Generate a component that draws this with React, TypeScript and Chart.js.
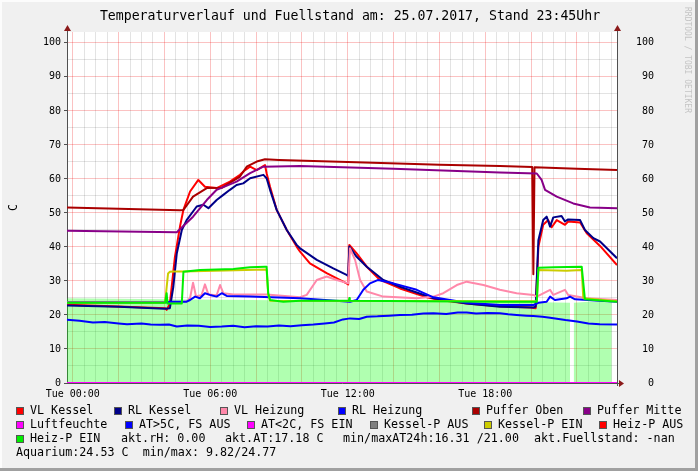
import React, { useEffect, useRef } from "react";
import { Chart, registerables } from "chart.js";

Chart.register(...registerables);

const W = 698;
const H = 471;

// ---- axes ----
const X_MIN = -0.25; // Mon 23:45
const X_MAX = 23.75; // Tue 23:45
const Y_MIN = 0;
const Y_MAX = 103.2;
const xLabelHours = [0, 6, 12, 18];
const xTickLabels = ["Tue 00:00", "Tue 06:00", "Tue 12:00", "Tue 18:00"];
const yLabelValues = [0, 10, 20, 30, 40, 50, 60, 70, 80, 90, 100];

const TITLE = "Temperaturverlauf und Fuellstand am: 25.07.2017, Stand 23:45Uhr";
const Y_TITLE = "C";
const WATERMARK = "RRDTOOL / TOBI OETIKER";

// ---- series (hours, °C) ----
const aquariumT = [-0.25, 4.0, 9.0, 14.0, 18.0, 21.7, 21.72, 21.84, 21.86, 23.52];
const aquariumV = [24.9, 24.6, 24.3, 24.2, 24.0, 23.6, null, null, 23.6, 24.3];

const vlKesselT = [-0.25, 2.0, 4.03, 4.1, 4.24, 4.46, 4.68, 4.83, 5.12, 5.48, 5.77, 6.28, 6.86, 7.3, 7.52, 7.74, 8.03, 8.39, 8.46, 8.61, 8.9, 9.34, 9.77, 9.92, 10.35, 11.08, 11.95, 12.02, 12.07, 12.39, 12.83, 13.41, 14.28, 15.45, 16.03, 17.19, 18.64, 20.0, 20.2, 20.32, 20.53, 20.75, 20.9, 21.12, 21.48, 21.62, 22.14, 22.43, 23.01, 23.75];
const vlKesselV = [23.0, 22.5, 22.0, 21.5, 23.4, 37.1, 46.0, 50.9, 56.3, 59.7, 57.7, 57.3, 59.2, 61.2, 62.6, 63.6, 62.6, 64.1, 61.7, 57.7, 50.9, 45.0, 40.1, 38.6, 35.2, 32.3, 29.3, 29.0, 40.6, 38.1, 34.2, 30.3, 27.8, 25.2, 24.4, 23.4, 22.6, 22.2, 22.0, 40.1, 46.5, 47.9, 45.8, 47.9, 46.5, 47.5, 47.2, 44.0, 40.3, 34.7];

const rlKesselT = [-0.25, 2.0, 4.03, 4.24, 4.39, 4.54, 4.76, 4.97, 5.41, 5.7, 5.92, 6.28, 6.57, 6.86, 7.15, 7.44, 7.74, 8.32, 8.46, 8.61, 8.9, 9.34, 9.77, 9.92, 10.65, 11.37, 11.95, 12.02, 12.07, 12.39, 12.83, 13.55, 14.28, 15.74, 17.19, 18.64, 20.1, 20.2, 20.32, 20.53, 20.68, 20.83, 20.97, 21.33, 21.48, 21.62, 22.14, 22.35, 22.72, 23.01, 23.75];
const rlKesselV = [22.8, 22.4, 21.8, 22.0, 28.3, 38.1, 45.0, 47.9, 51.9, 52.4, 51.4, 53.8, 55.3, 56.8, 58.2, 58.7, 60.2, 61.2, 60.2, 56.8, 50.9, 45.0, 40.6, 39.6, 36.2, 33.7, 31.8, 31.5, 40.1, 37.1, 34.2, 30.3, 28.3, 24.9, 23.4, 22.4, 22.2, 22.4, 42.0, 47.9, 48.9, 46.0, 48.7, 49.1, 47.5, 48.1, 47.9, 45.0, 42.6, 41.6, 36.7];

const vlHeizungT = [-0.25, 4.6, 4.97, 5.12, 5.25, 5.38, 5.62, 5.77, 5.92, 6.28, 6.43, 6.57, 7.01, 8.46, 9.92, 10.21, 10.65, 11.08, 11.52, 12.02, 12.1, 12.32, 12.54, 12.83, 13.55, 15.01, 15.74, 16.17, 16.76, 17.19, 17.92, 18.64, 19.37, 20.1, 20.25, 20.83, 20.97, 21.48, 21.62, 22.43, 23.75];
const vlHeizungV = [23.8, 23.8, 24.0, 25.0, 29.5, 25.5, 25.8, 29.0, 26.0, 25.8, 28.8, 26.4, 26.0, 26.0, 25.2, 25.9, 30.3, 31.3, 30.3, 29.3, 39.6, 36.2, 30.3, 26.9, 25.4, 24.9, 25.4, 26.4, 28.8, 29.8, 28.8, 27.4, 26.4, 25.9, 25.4, 27.4, 25.9, 27.4, 25.9, 24.9, 24.4];

const rlHeizungT = [-0.25, 4.03, 4.24, 4.97, 5.12, 5.34, 5.55, 5.77, 5.99, 6.28, 6.5, 6.72, 7.74, 9.92, 12.1, 12.39, 12.68, 12.97, 13.33, 13.99, 15.01, 15.74, 17.19, 18.64, 20.1, 20.32, 20.68, 20.83, 21.04, 21.55, 21.7, 21.92, 23.75];
const rlHeizungV = [23.7, 23.7, 23.9, 23.9, 24.4, 25.4, 24.9, 26.4, 25.9, 25.4, 26.4, 25.6, 25.4, 24.9, 23.9, 24.4, 27.4, 29.3, 30.3, 29.3, 27.4, 25.2, 23.6, 22.9, 22.9, 23.6, 23.9, 25.4, 24.4, 24.9, 25.4, 24.6, 23.9];

const pufferObenT = [-0.25, 4.68, 4.83, 5.25, 5.85, 6.5, 7.3, 7.59, 8.03, 8.39, 9.0, 12.0, 16.0, 18.64, 20.05, 20.1, 20.15, 22.0, 23.75];
const pufferObenV = [51.6, 50.8, 50.9, 54.8, 57.3, 57.4, 60.7, 63.6, 65.1, 65.8, 65.6, 65.0, 64.2, 63.8, 63.5, 32.0, 63.4, 63.0, 62.6];

const pufferMitteT = [-0.25, 4.54, 5.25, 5.85, 6.28, 7.15, 7.74, 8.32, 9.92, 14.0, 18.64, 20.25, 20.46, 20.61, 21.12, 21.84, 22.57, 23.75];
const pufferMitteV = [44.8, 44.3, 48.9, 53.8, 56.8, 59.2, 61.7, 63.6, 63.8, 63.0, 61.9, 61.6, 59.7, 56.8, 54.8, 52.8, 51.6, 51.4];

const luftfeuchteT = [-0.25, 23.75];
const luftfeuchteV = [0, 0];

const aussenT = [-0.25, 0.3, 0.88, 1.4, 2.0, 2.37, 3.0, 3.4, 3.81, 4.2, 4.54, 5.0, 5.5, 6.0, 6.5, 7.0, 7.5, 8.0, 8.5, 9.0, 9.5, 10.0, 10.5, 11.0, 11.4, 11.79, 12.1, 12.5, 12.83, 13.3, 13.8, 14.28, 14.8, 15.3, 15.74, 16.3, 16.8, 17.19, 17.6, 18.1, 18.64, 19.0, 19.37, 19.8, 20.1, 20.5, 20.83, 21.2, 21.5, 22.0, 22.5, 23.0, 23.75];
const aussenV = [18.6, 18.3, 17.8, 17.9, 17.5, 17.3, 17.5, 17.2, 17.1, 17.2, 16.6, 16.9, 16.8, 16.5, 16.6, 16.8, 16.4, 16.7, 16.6, 16.9, 16.7, 17.0, 17.2, 17.5, 17.8, 18.7, 19.0, 18.8, 19.5, 19.6, 19.8, 20.0, 20.1, 20.4, 20.5, 20.3, 20.7, 20.7, 20.4, 20.6, 20.5, 20.2, 20.0, 19.8, 19.7, 19.5, 19.2, 18.8, 18.5, 18.1, 17.5, 17.3, 17.2];

const kesselPEinT = [-0.25, 4.03, 4.16, 4.24, 4.39, 4.83, 8.46, 8.53, 8.61, 20.25, 20.32, 21.55, 22.21, 22.28, 23.75];
const kesselPEinV = [23.6, 23.6, 32.2, 32.7, 32.8, 32.8, 33.4, 26.0, 24.2, 24.0, 33.2, 33.0, 33.2, 24.9, 24.0];

const heizPEinT = [-0.25, 4.03, 4.1, 4.13, 4.16, 4.76, 4.83, 5.55, 7.01, 7.74, 8.39, 8.46, 8.53, 8.61, 9.19, 9.92, 12.05, 12.07, 12.09, 18.64, 20.25, 20.32, 21.0, 22.21, 22.35, 23.75];
const heizPEinV = [23.6, 23.6, 26.4, 23.4, 23.4, 23.4, 32.7, 33.2, 33.5, 34.0, 34.2, 34.2, 26.4, 24.4, 23.9, 24.2, 24.2, 25.0, 24.2, 23.9, 23.9, 33.9, 34.0, 34.2, 24.6, 23.9];

// ---- legend ----
const COL = {
  vlKessel: "#ff0000",
  rlKessel: "#000088",
  vlHeizung: "#ff88aa",
  rlHeizung: "#0000ff",
  pufferOben: "#aa0000",
  pufferMitte: "#880088",
  luftfeuchte: "#ff00ff",
  atWarm: "#0000ff",
  atKalt: "#ff00ff",
  kesselPAus: "#808080",
  kesselPEin: "#cccc00",
  heizPAus: "#ff0000",
  heizPEin: "#00ee00",
  aquarium: "rgba(0,255,0,0.31)",
};

const legendRow1 = [
  { x: 16, color: COL.vlKessel, text: "VL Kessel" },
  { x: 114, color: COL.rlKessel, text: "RL Kessel" },
  { x: 220, color: COL.vlHeizung, text: "VL Heizung" },
  { x: 338, color: COL.rlHeizung, text: "RL Heizung" },
  { x: 472, color: COL.pufferOben, text: "Puffer Oben" },
  { x: 583, color: COL.pufferMitte, text: "Puffer Mitte" },
];
const legendRow2 = [
  { x: 16, color: COL.luftfeuchte, text: "Luftfeuchte" },
  { x: 125, color: COL.atWarm, text: "AT>5C, FS AUS" },
  { x: 247, color: COL.atKalt, text: "AT<2C, FS EIN" },
  { x: 370, color: COL.kesselPAus, text: "Kessel-P AUS" },
  { x: 484, color: COL.kesselPEin, text: "Kessel-P EIN" },
  { x: 599, color: COL.heizPAus, text: "Heiz-P AUS" },
];
const legendRow3 = [
  { x: 16, color: COL.heizPEin, text: "Heiz-P EIN" },
  { x: 121, color: null, text: "akt.rH: 0.00" },
  { x: 225, color: null, text: "akt.AT:17.18 C" },
  { x: 343, color: null, text: "min/maxAT24h:16.31 /21.00" },
  { x: 534, color: null, text: "akt.Fuellstand: -nan" },
];
const legendRow4 = [
  { x: 16, color: null, text: "Aquarium:24.53 C  min/max: 9.82/24.77" },
];
const legendRows = [legendRow1, legendRow2, legendRow3, legendRow4];

const MONO = '"DejaVu Sans Mono", monospace';

function pts(t: number[], v: (number | null)[]) {
  return t.map((x, i) => ({ x, y: v[i] }));
}

function lineDs(label: string, t: number[], v: number[], color: string, width = 2) {
  return {
    label,
    data: pts(t, v),
    borderColor: color,
    backgroundColor: color,
    borderWidth: width,
    pointRadius: 0,
    tension: 0,
    fill: false,
    borderJoinStyle: "round" as const,
  };
}

const halfHourTicks: number[] = [];
for (let h = 0; h <= 23.5; h += 0.5) halfHourTicks.push(h);
const fiveTicks: number[] = [];
for (let v = 0; v <= 100; v += 5) fiveTicks.push(v);

const isMult = (v: number, m: number) => Math.abs(v / m - Math.round(v / m)) < 1e-6;

const MAJOR = "rgba(240,0,0,0.24)";
const MINOR = "rgba(0,0,0,0.11)";

const rrdPlugin = {
  id: "rrdLook",
  beforeDraw(chart: any) {
    const { ctx, chartArea: a } = chart;
    ctx.save();
    ctx.fillStyle = "#f0f0f0";
    ctx.fillRect(0, 0, W, H);
    // frame
    ctx.fillStyle = "#fcfcfc";
    ctx.fillRect(0, 0, W, 2);
    ctx.fillRect(0, 0, 2, H);
    ctx.fillStyle = "#a0a0a0";
    ctx.fillRect(W - 3, 0, 3, H);
    ctx.fillRect(0, H - 3, W, 3);
    ctx.fillStyle = "#ffffff";
    ctx.fillRect(a.left, a.top, a.right - a.left, a.bottom - a.top);
    ctx.restore();
  },
  beforeDatasetsDraw(chart: any) {
    const { ctx, chartArea: a } = chart;
    ctx.save();
    ctx.strokeStyle = "#505050";
    ctx.lineWidth = 1;
    ctx.beginPath();
    ctx.moveTo(a.left + 0.5, a.bottom + 1);
    ctx.lineTo(a.left + 0.5, a.top - 4);
    ctx.moveTo(a.right + 0.5, a.bottom + 3);
    ctx.lineTo(a.right + 0.5, a.top - 4);
    ctx.moveTo(a.left - 3, a.bottom + 0.5);
    ctx.lineTo(a.right + 4, a.bottom + 0.5);
    ctx.stroke();
    ctx.restore();
  },
  afterDraw(chart: any) {
    const { ctx, chartArea: a } = chart;
    ctx.save();
    // arrows
    ctx.fillStyle = "#8b1a1a";
    const up = (x: number) => {
      ctx.beginPath();
      ctx.moveTo(x - 3, a.top - 1);
      ctx.lineTo(x + 4, a.top - 1);
      ctx.lineTo(x + 0.5, a.top - 7);
      ctx.closePath();
      ctx.fill();
    };
    up(a.left);
    up(a.right);
    ctx.beginPath();
    ctx.moveTo(a.right + 2, a.bottom - 3);
    ctx.lineTo(a.right + 2, a.bottom + 4);
    ctx.lineTo(a.right + 7, a.bottom + 0.5);
    ctx.closePath();
    ctx.fill();

    // title
    ctx.fillStyle = "#000";
    ctx.font = `13.2px ${MONO}`;
    ctx.textAlign = "center";
    ctx.textBaseline = "middle";
    ctx.fillText(TITLE, 350, 17);

    // y-axis title
    ctx.save();
    ctx.translate(14, (a.top + a.bottom) / 2);
    ctx.rotate(-Math.PI / 2);
    ctx.font = `11.7px ${MONO}`;
    ctx.fillText(Y_TITLE, 0, 0);
    ctx.restore();

    // watermark
    ctx.save();
    ctx.translate(687, 7);
    ctx.rotate(Math.PI / 2);
    ctx.font = `8px ${MONO}`;
    ctx.fillStyle = "#c4c4c4";
    ctx.textAlign = "left";
    ctx.textBaseline = "middle";
    ctx.fillText(WATERMARK, 0, 0);
    ctx.restore();

    // legend
    ctx.font = `11.7px ${MONO}`;
    ctx.textAlign = "left";
    ctx.textBaseline = "middle";
    legendRows.forEach((row, r) => {
      const y = 411 + r * 14;
      row.forEach((it) => {
        let tx = it.x;
        if (it.color) {
          ctx.fillStyle = it.color;
          ctx.fillRect(it.x, y - 4, 8, 8);
          ctx.strokeStyle = "#555";
          ctx.lineWidth = 1;
          ctx.strokeRect(it.x + 0.5, y - 3.5, 7, 7);
          tx = it.x + 14;
        }
        ctx.fillStyle = "#000";
        ctx.fillText(it.text, tx, y);
      });
    });
    ctx.restore();
  },
};

export default function App() {
  const ref = useRef<HTMLCanvasElement | null>(null);

  useEffect(() => {
    if (!ref.current) return;
    const datasets: any[] = [
      lineDs("Heiz-P EIN", heizPEinT, heizPEinV, COL.heizPEin),
      lineDs("Kessel-P EIN", kesselPEinT, kesselPEinV, COL.kesselPEin),
      lineDs("AT", aussenT, aussenV, COL.atWarm),
      lineDs("Luftfeuchte", luftfeuchteT, luftfeuchteV, COL.luftfeuchte),
      lineDs("Puffer Mitte", pufferMitteT, pufferMitteV, COL.pufferMitte),
      lineDs("Puffer Oben", pufferObenT, pufferObenV, COL.pufferOben),
      lineDs("RL Heizung", rlHeizungT, rlHeizungV, COL.rlHeizung),
      lineDs("VL Heizung", vlHeizungT, vlHeizungV, COL.vlHeizung),
      lineDs("RL Kessel", rlKesselT, rlKesselV, COL.rlKessel),
      lineDs("VL Kessel", vlKesselT, vlKesselV, COL.vlKessel),
      {
        label: "Aquarium",
        data: pts(aquariumT, aquariumV),
        borderWidth: 0,
        borderColor: "rgba(0,0,0,0)",
        backgroundColor: COL.aquarium,
        pointRadius: 0,
        tension: 0,
        fill: "origin",
        spanGaps: false,
      },
    ];

    const chart = new Chart(ref.current, {
      type: "line",
      data: { datasets },
      plugins: [rrdPlugin],
      options: {
        responsive: false,
        animation: false,
        devicePixelRatio: 1,
        events: [],
        layout: { padding: { top: 32, left: 0, right: 44, bottom: 0 } },
        plugins: {
          legend: { display: false },
          tooltip: { enabled: false },
          title: { display: false },
        },
        scales: {
          x: {
            type: "linear",
            position: "bottom",
            min: X_MIN,
            max: X_MAX,
            afterBuildTicks: (s: any) => {
              s.ticks = halfHourTicks.map((v) => ({ value: v }));
            },
            afterFit: (s: any) => {
              s.height = 88;
            },
            ticks: {
              autoSkip: false,
              maxRotation: 0,
              minRotation: 0,
              padding: 5,
              color: "#000",
              font: { family: MONO, size: 10 },
              callback: (v: any) => {
                const i = xLabelHours.findIndex((h) => Math.abs(h - Number(v)) < 1e-6);
                return i >= 0 ? xTickLabels[i] : "";
              },
            },
            grid: {
              drawTicks: false,
              lineWidth: 1,
              color: (c: any) => (c.tick && isMult(c.tick.value, 2) ? MAJOR : MINOR),
            },
            border: { display: false },
          },
          y: {
            type: "linear",
            position: "left",
            min: Y_MIN,
            max: Y_MAX,
            afterBuildTicks: (s: any) => {
              s.ticks = fiveTicks.map((v) => ({ value: v }));
            },
            afterFit: (s: any) => {
              s.width = 67;
            },
            ticks: {
              autoSkip: false,
              padding: 3,
              color: "#000",
              font: { family: MONO, size: 10 },
              callback: (v: any) => (yLabelValues.includes(Number(v)) ? String(v) : ""),
            },
            grid: {
              drawTicks: true,
              tickLength: 3,
              lineWidth: 1,
              color: (c: any) => (c.tick && isMult(c.tick.value, 10) ? MAJOR : MINOR),
              tickColor: (c: any) => (c.tick && isMult(c.tick.value, 10) ? "#505050" : "rgba(0,0,0,0)"),
            },
            border: { display: false },
          },
          y2: {
            type: "linear",
            position: "right",
            min: Y_MIN,
            max: Y_MAX,
            afterBuildTicks: (s: any) => {
              s.ticks = yLabelValues.map((v) => ({ value: v }));
            },
            afterFit: (s: any) => {
              s.width = 37;
            },
            ticks: {
              autoSkip: false,
              padding: 0,
              crossAlign: "far",
              color: "#000",
              font: { family: MONO, size: 10 },
              callback: (v: any) => String(v),
            },
            grid: { display: false, drawTicks: false },
            border: { display: false },
          },
        },
      } as any,
    });
    return () => chart.destroy();
  }, []);

  return (
    <div style={{ position: "absolute", left: 0, top: 0, width: W, height: H }}>
      <canvas ref={ref} width={W} height={H} style={{ display: "block", width: W, height: H }} />
    </div>
  );
}
